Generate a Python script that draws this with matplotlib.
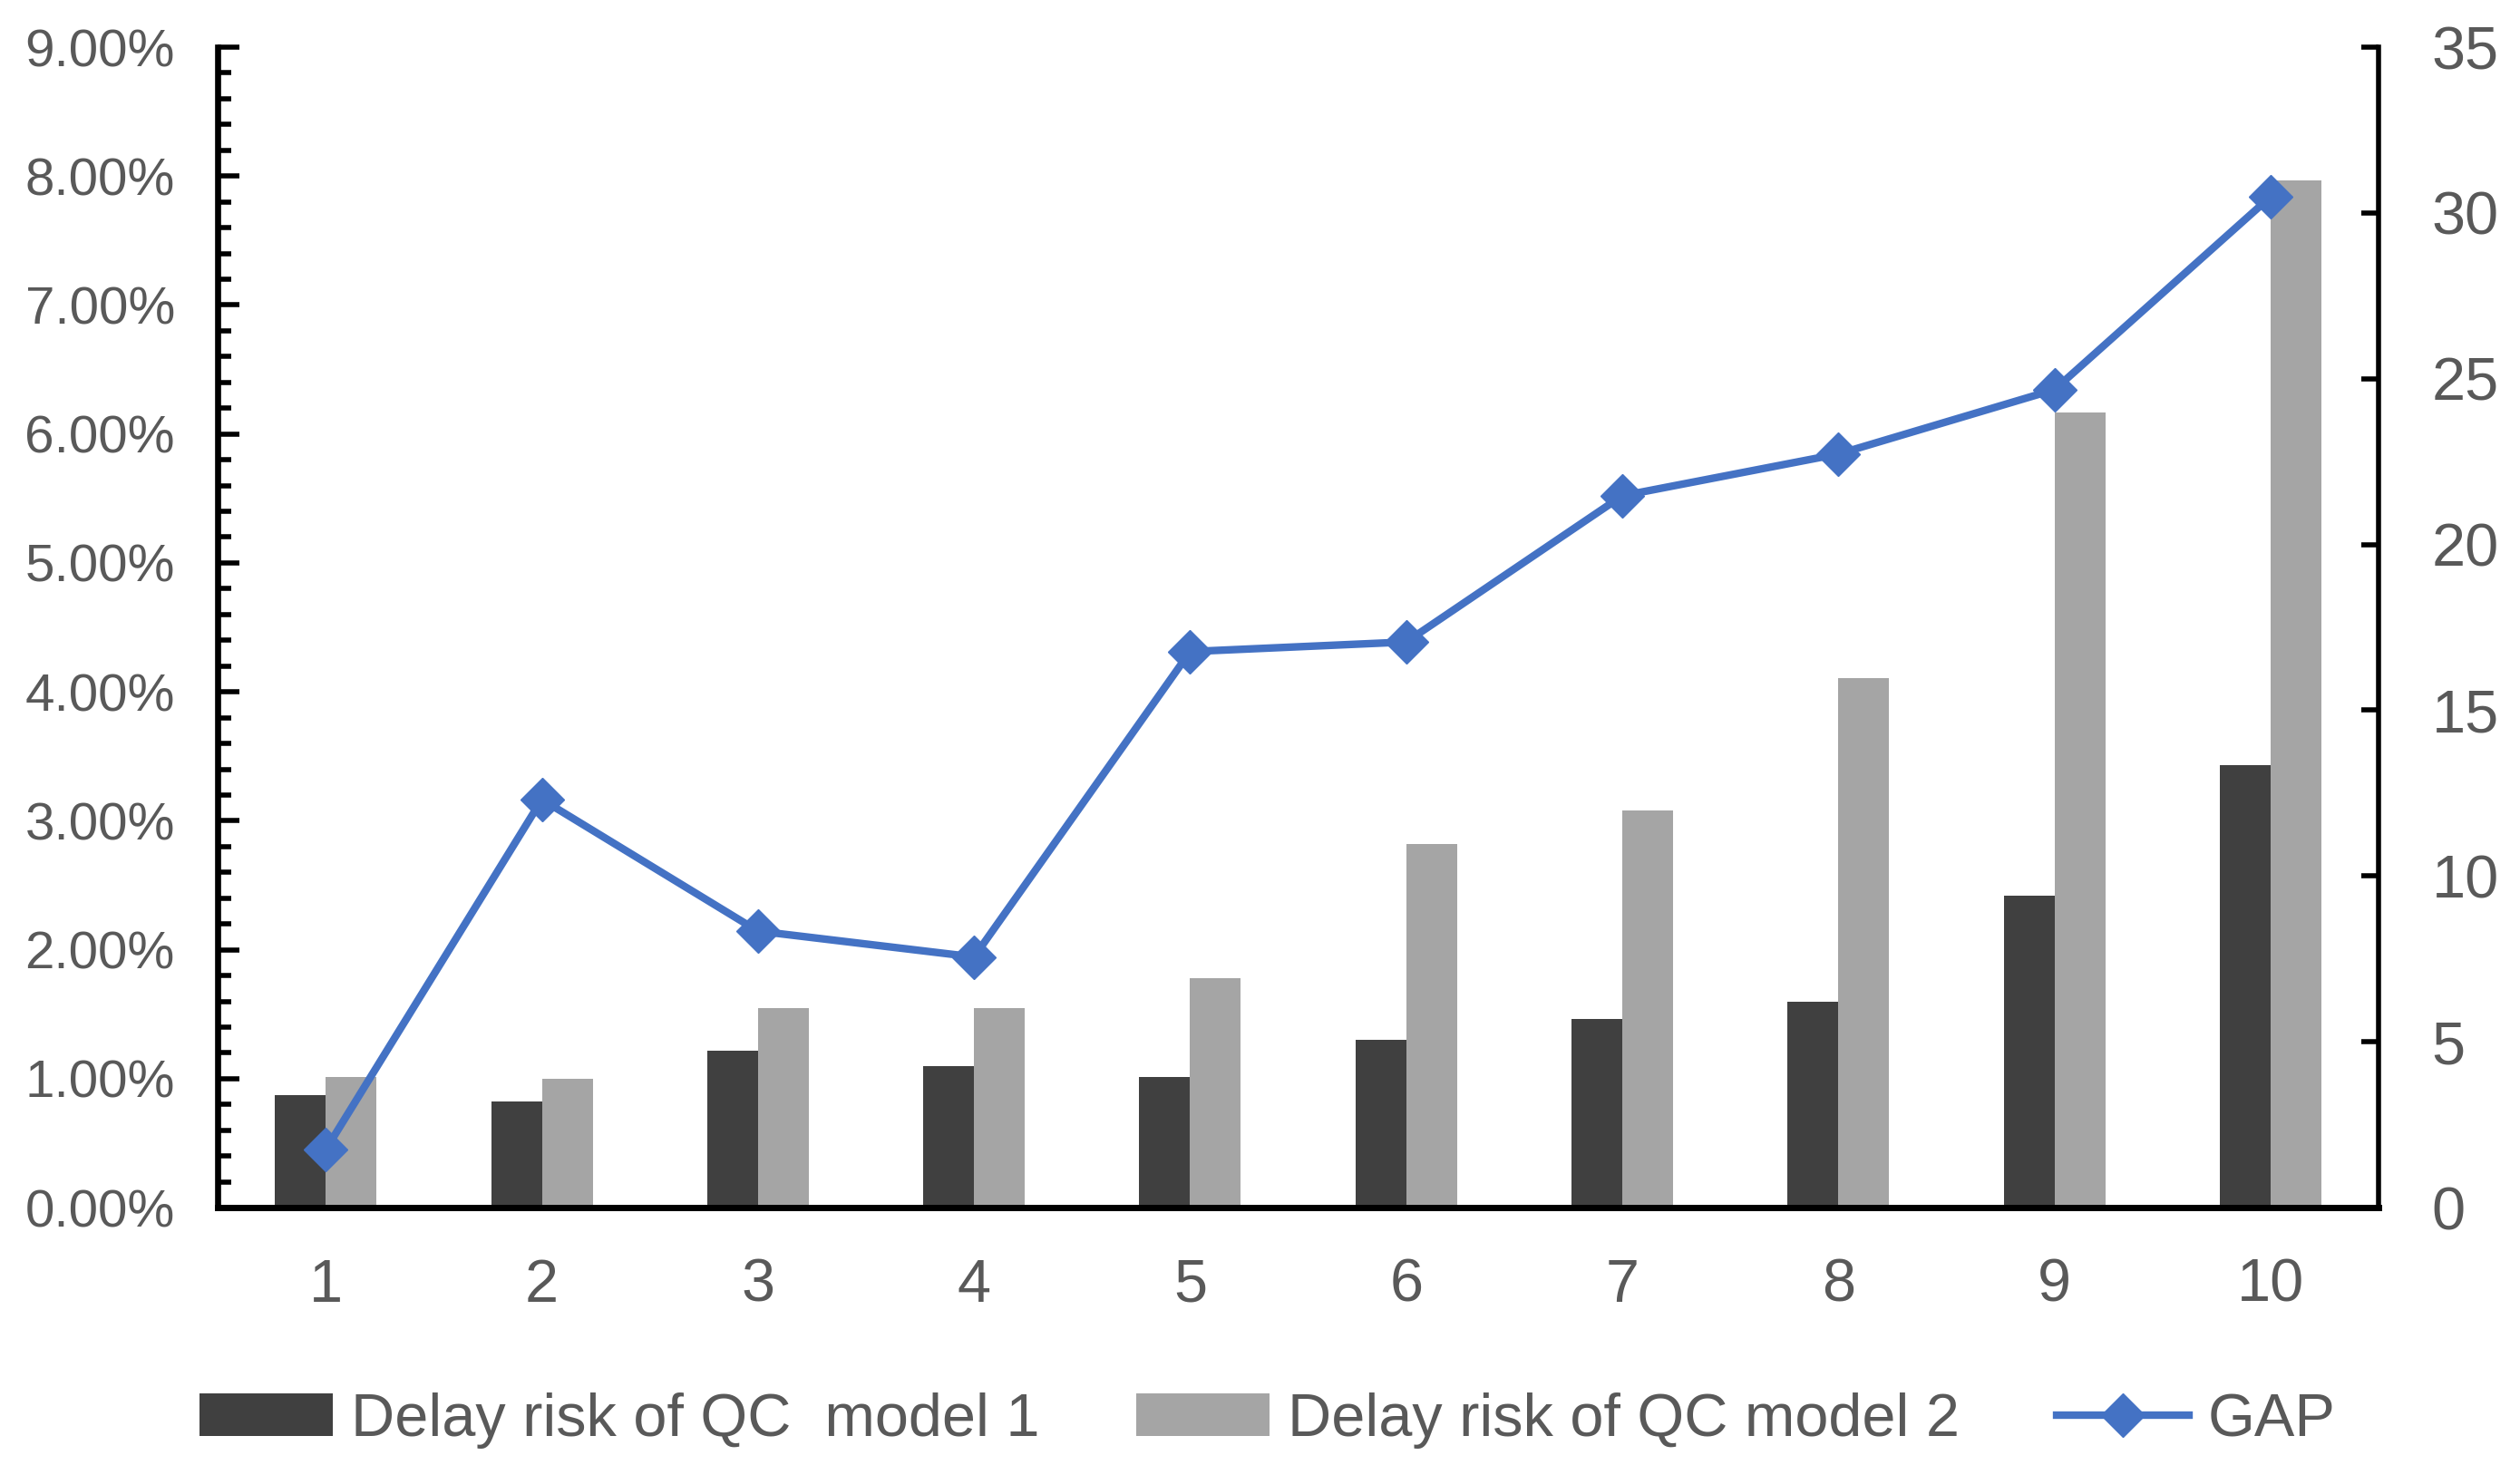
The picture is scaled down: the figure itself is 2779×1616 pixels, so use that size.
import numpy as np
import matplotlib
matplotlib.use("Agg")
from matplotlib import pyplot as plt
from matplotlib.ticker import MultipleLocator, FuncFormatter

# data
scenarios = [1, 2, 3, 4, 5, 6, 7, 8, 9, 10]
risk_model1 = [0.87, 0.82, 1.22, 1.10, 1.01, 1.30, 1.46, 1.60, 2.42, 3.43]   # percent
risk_model2 = [1.01, 1.00, 1.55, 1.55, 1.78, 2.82, 3.08, 4.11, 6.17, 7.97]   # percent
gap = [1.75, 12.31, 8.34, 7.56, 16.77, 17.06, 21.47, 22.73, 24.67, 30.49]

label1 = "Delay risk of QC  model 1"
label2 = "Delay risk of QC model 2"
label3 = "GAP"

plt.rcParams['font.family'] = ['Liberation Sans Narrow', 'Liberation Sans', 'DejaVu Sans']
textGray = "#595959"

fig = plt.figure(figsize=(27.79, 16.16), dpi=100)
ax = fig.add_axes([0.0864, 0.1757, 0.9439 - 0.0864, 0.9678 - 0.1757])
ax2 = ax.twinx()

x = np.array(scenarios)
w = 0.235
b1 = ax.bar(x - w / 2, risk_model1, width=w, color="#404040", label=label1)
b2 = ax.bar(x + w / 2, risk_model2, width=w, color="#A5A5A5", label=label2)
ln, = ax2.plot(x, gap, color="#4472C4", lw=6, marker="D", markersize=24, label=label3)

ax.set_xlim(0.5, 10.5)
ax.set_ylim(0, 9)
ax2.set_ylim(0, 35)

ax.yaxis.set_major_locator(MultipleLocator(1))
ax.yaxis.set_minor_locator(MultipleLocator(0.2))
ax.yaxis.set_major_formatter(FuncFormatter(lambda v, p: "%.2f%%" % v))
ax2.yaxis.set_major_locator(MultipleLocator(5))
ax.set_xticks(scenarios)

# spines
ax.spines["top"].set_visible(False)
ax2.spines["top"].set_visible(False)
ax.spines["right"].set_visible(False)
ax2.spines["left"].set_visible(False)
ax2.spines["bottom"].set_visible(False)
ax.spines["left"].set_linewidth(4.8)
ax.spines["bottom"].set_linewidth(5)
ax2.spines["right"].set_linewidth(4)

ax.tick_params(axis="y", which="major", direction="in", length=17, width=4, pad=34,
               labelsize=42, labelcolor=textGray)
ax.tick_params(axis="y", which="minor", direction="in", length=11, width=4)
ax.tick_params(axis="x", length=0, pad=40, labelsize=48, labelcolor=textGray)
ax2.tick_params(axis="y", direction="in", length=14, width=4, pad=42,
                labelsize=48, labelcolor=textGray)

fig.legend([b1, b2, ln], [label1, label2, label3], loc="lower center",
           bbox_to_anchor=(0.503, -0.026), ncol=3, frameon=False, fontsize=48,
           labelcolor=textGray, handlelength=2.2, handletextpad=0.3,
           columnspacing=1.6)

fig.savefig("out.png", dpi=100)
